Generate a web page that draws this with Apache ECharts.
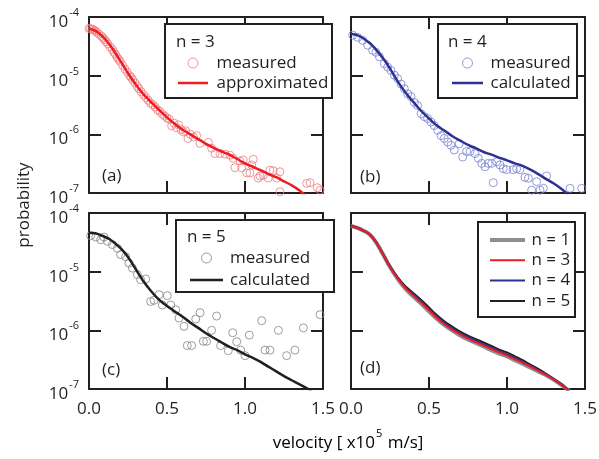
<!DOCTYPE html>
<html><head><meta charset="utf-8">
<script src="https://cdn.jsdelivr.net/npm/echarts@6/dist/echarts.min.js"></script>
<style>html,body{margin:0;padding:0;background:#fff}#c{width:599px;height:459px}</style>
</head><body><div id="c"></div>
<script>
// ---------- DATA ----------
const xTickLabels = ['0.0', '0.5', '1.0', '1.5'];
const panelTags = ['(a)', '(b)', '(c)', '(d)'];
const legendHeads = ['n = 3', 'n = 4', 'n = 5'];

// (a) n = 3
const aMeasured = [[0.0,6.4e-5],[0.01,6.3e-5],[0.02,6.2e-5],[0.03,6.0e-5],[0.04,5.8e-5],[0.05,5.5e-5],[0.065,5.1e-5],[0.08,4.7e-5],[0.09,4.4e-5],[0.1,4.1e-5],[0.11,3.8e-5],[0.12,3.5e-5],[0.135,3.1e-5],[0.15,2.8e-5],[0.16,2.5e-5],[0.17,2.3e-5],[0.18,2.05e-5],[0.19,1.9e-5],[0.2,1.75e-5],[0.215,1.5e-5],[0.23,1.3e-5],[0.245,1.15e-5],[0.26,1.0e-5],[0.27,9.4e-6],[0.28,8.5e-6],[0.295,7.5e-6],[0.31,6.6e-6],[0.32,6.0e-6],[0.335,5.3e-6],[0.35,4.7e-6],[0.365,4.2e-6],[0.38,3.8e-6],[0.395,3.4e-6],[0.41,3.2e-6],[0.425,2.9e-6],[0.44,2.6e-6],[0.455,2.45e-6],[0.47,2.2e-6],[0.485,2.05e-6],[0.5,1.9e-6],[0.515,1.8e-6],[0.53,1.4e-6],[0.545,1.55e-6],[0.56,1.3e-6],[0.575,1.45e-6],[0.59,1.2e-6],[0.605,1.1e-6],[0.62,1.15e-6],[0.635,8.5e-7],[0.65,1.0e-6],[0.67,9.0e-7],[0.69,9.5e-7],[0.712,7.0e-7],[0.765,7.3e-7],[0.786,5.8e-7],[0.808,4.7e-7],[0.84,4.7e-7],[0.872,4.6e-7],[0.904,4.4e-7],[0.925,3.9e-7],[0.936,2.7e-7],[0.968,3.5e-7],[0.979,2.7e-7],[0.989,3.65e-7],[1.011,2.2e-7],[1.032,2.2e-7],[1.043,3.0e-7],[1.053,3.75e-7],[1.085,1.8e-7],[1.096,1.95e-7],[1.117,2.0e-7],[1.149,1.8e-7],[1.16,2.45e-7],[1.181,2.4e-7],[1.203,1.8e-7],[1.224,2.3e-7],[1.224,1.05e-7],[1.395,1.46e-7],[1.417,1.5e-7],[1.463,1.23e-7],[1.481,1.12e-7]];
const aCurveX = [0,0.03,0.06,0.1,0.15,0.2,0.25,0.3,0.35,0.4,0.45,0.5,0.55,0.6,0.65,0.7,0.75,0.8,0.85,0.9,0.95,1.0,1.05,1.1,1.15,1.2,1.25,1.3,1.35,1.39];
const aCurveY = [6.3e-5,6.0e-5,5.4e-5,4.3e-5,2.9e-5,1.8e-5,1.1e-5,7.1e-6,4.8e-6,3.5e-6,2.6e-6,1.95e-6,1.5e-6,1.2e-6,1.0e-6,8.3e-7,6.9e-7,5.9e-7,5.1e-7,4.5e-7,3.8e-7,3.2e-7,2.8e-7,2.45e-7,2.1e-7,1.86e-7,1.58e-7,1.35e-7,1.1e-7,8.9e-8];

// (b) n = 4
const bMeasured = [[0.011,4.9e-5],[0.043,4.5e-5],[0.075,4.0e-5],[0.107,3.3e-5],[0.139,2.7e-5],[0.16,2.5e-5],[0.182,2.1e-5],[0.214,1.6e-5],[0.235,1.4e-5],[0.256,1.23e-5],[0.278,1.02e-5],[0.299,8.9e-6],[0.321,7.2e-6],[0.342,6.0e-6],[0.363,4.9e-6],[0.385,4.4e-6],[0.406,3.5e-6],[0.427,3.1e-6],[0.449,2.24e-6],[0.47,2.0e-6],[0.491,1.86e-6],[0.513,1.62e-6],[0.534,1.41e-6],[0.556,1.17e-6],[0.577,9.5e-7],[0.598,8.5e-7],[0.62,7.4e-7],[0.641,6.5e-7],[0.662,5.4e-7],[0.694,6.9e-7],[0.716,4.1e-7],[0.741,5.1e-7],[0.763,5.1e-7],[0.795,4.7e-7],[0.816,3.9e-7],[0.838,3.2e-7],[0.859,2.8e-7],[0.88,3.2e-7],[0.902,3.2e-7],[0.912,1.5e-7],[0.934,3.4e-7],[0.955,3.0e-7],[0.976,2.6e-7],[0.998,2.5e-7],[1.04,2.5e-7],[1.062,2.6e-7],[1.083,2.5e-7],[1.115,1.85e-7],[1.137,1.78e-7],[1.158,1.12e-7],[1.19,1.56e-7],[1.212,1.12e-7],[1.233,1.2e-7],[1.254,1.95e-7],[1.404,1.2e-7],[1.479,1.2e-7]];
const bCurveX = [0,0.04,0.08,0.13,0.17,0.21,0.25,0.3,0.35,0.4,0.45,0.5,0.55,0.6,0.65,0.7,0.75,0.8,0.85,0.9,0.95,1.0,1.05,1.1,1.15,1.2,1.25,1.3,1.35,1.39];
const bCurveY = [5.2e-5,4.9e-5,4.3e-5,3.4e-5,2.6e-5,1.9e-5,1.32e-5,7.9e-6,5.1e-6,3.55e-6,2.5e-6,1.86e-6,1.41e-6,1.15e-6,9.3e-7,7.8e-7,6.6e-7,5.8e-7,5.0e-7,4.5e-7,4.0e-7,3.6e-7,3.2e-7,2.9e-7,2.5e-7,2.1e-7,1.74e-7,1.45e-7,1.17e-7,9.5e-8];

// (c) n = 5
const cMeasured = [[0.011,4.1e-5],[0.043,3.9e-5],[0.075,3.5e-5],[0.096,3.9e-5],[0.118,3.3e-5],[0.15,2.9e-5],[0.182,2.5e-5],[0.203,1.95e-5],[0.235,1.8e-5],[0.256,1.4e-5],[0.278,1.15e-5],[0.31,8.9e-6],[0.331,7.3e-6],[0.363,7.5e-6],[0.395,3.1e-6],[0.417,3.25e-6],[0.449,4.05e-6],[0.47,2.7e-6],[0.502,3.9e-6],[0.524,2.7e-6],[0.556,2.25e-6],[0.577,1.62e-6],[0.609,1.17e-6],[0.63,5.5e-7],[0.658,5.5e-7],[0.684,1.56e-6],[0.712,2.0e-6],[0.733,6.5e-7],[0.754,6.5e-7],[0.786,1.0e-6],[0.818,1.75e-6],[0.844,5.5e-7],[0.893,4.5e-7],[0.921,9.1e-7],[0.947,6.4e-7],[0.972,4.6e-7],[1.0,3.7e-7],[1.028,8.3e-7],[1.107,1.46e-6],[1.128,4.6e-7],[1.16,4.6e-7],[1.214,1.0e-6],[1.267,3.7e-7],[1.32,4.6e-7],[1.374,1.1e-6],[1.481,1.85e-6]];
const cCurveX = [0,0.04,0.085,0.13,0.17,0.21,0.25,0.3,0.35,0.4,0.45,0.5,0.55,0.6,0.65,0.7,0.75,0.8,0.85,0.9,0.95,1.0,1.05,1.1,1.15,1.2,1.25,1.3,1.35,1.4,1.43];
const cCurveY = [4.6e-5,4.5e-5,4.1e-5,3.6e-5,3.0e-5,2.4e-5,1.78e-5,1.1e-5,6.8e-6,4.6e-6,3.3e-6,2.6e-6,2.1e-6,1.7e-6,1.35e-6,1.1e-6,8.9e-7,7.4e-7,6.2e-7,5.2e-7,4.6e-7,3.9e-7,3.4e-7,2.9e-7,2.4e-7,2.0e-7,1.66e-7,1.41e-7,1.2e-7,1.02e-7,8.9e-8];

// (d) comparison
const dX = [0,0.04,0.08,0.12,0.16,0.2,0.25,0.3,0.35,0.4,0.45,0.5,0.55,0.6,0.65,0.7,0.75,0.8,0.85,0.9,0.95,1.0,1.05,1.1,1.15,1.2,1.25,1.3,1.35,1.38,1.40];
const dN1 = [6.0e-5,5.6e-5,5.0e-5,4.3e-5,3.2e-5,2.1e-5,1.2e-5,7.5e-6,5.1e-6,3.75e-6,2.85e-6,2.1e-6,1.57e-6,1.22e-6,9.9e-7,8.2e-7,7.0e-7,6.1e-7,5.3e-7,4.6e-7,4.0e-7,3.6e-7,3.1e-7,2.7e-7,2.3e-7,2.0e-7,1.72e-7,1.44e-7,1.17e-7,1.02e-7,9.3e-8];
const dN3 = [6.0e-5,5.6e-5,5.0e-5,4.3e-5,3.2e-5,2.1e-5,1.2e-5,7.6e-6,5.2e-6,3.9e-6,2.95e-6,2.2e-6,1.62e-6,1.26e-6,1.02e-6,8.5e-7,7.2e-7,6.3e-7,5.5e-7,4.8e-7,4.2e-7,3.7e-7,3.2e-7,2.8e-7,2.4e-7,2.04e-7,1.74e-7,1.45e-7,1.17e-7,1.02e-7,9.3e-8];
const dN4 = [6.0e-5,5.6e-5,5.0e-5,4.3e-5,3.2e-5,2.1e-5,1.2e-5,7.8e-6,5.4e-6,4.1e-6,3.1e-6,2.3e-6,1.72e-6,1.33e-6,1.08e-6,9.0e-7,7.7e-7,6.7e-7,5.8e-7,5.1e-7,4.4e-7,3.9e-7,3.4e-7,2.95e-7,2.5e-7,2.1e-7,1.78e-7,1.46e-7,1.19e-7,1.02e-7,9.3e-8];
const dN5 = [6.0e-5,5.6e-5,5.0e-5,4.3e-5,3.2e-5,2.1e-5,1.23e-5,7.9e-6,5.6e-6,4.3e-6,3.3e-6,2.45e-6,1.82e-6,1.41e-6,1.15e-6,9.5e-7,8.1e-7,7.1e-7,6.2e-7,5.4e-7,4.7e-7,4.2e-7,3.6e-7,3.1e-7,2.6e-7,2.2e-7,1.82e-7,1.48e-7,1.2e-7,1.02e-7,9.3e-8];

// ---------- CHART ----------
const FONT = '"Open Sans", "Noto Sans", sans-serif';
const INK = '#231f20';
const C_RED = '#ed1c24', C_RED_PT = '#ee7b80';
const C_BLUE = '#2e3192', C_BLUE_PT = '#7881d2';
const C_BLACK = '#231f20', C_GRAY_PT = '#858585', C_GRAY = '#8c8e90';

const zip = (xs, ys) => xs.map((x, i) => [x, ys[i]]);
const gridPos = [[89, 17], [351, 17], [89, 213], [351, 213]];
const grid = gridPos.map(p => ({left: p[0], top: p[1], width: 234, height: 176, outerBoundsMode: 'none'}));

const lineAx = {show: true, onZero: false, lineStyle: {color: INK, width: 2}};
const tickAx = {show: true, inside: true, length: 12, lineStyle: {color: INK, width: 2}};
const xAxis = [], yAxis = [];
for (let i = 0; i < 4; i++) {
  xAxis.push({gridIndex: i, type: 'value', min: 0, max: 1.5, interval: 0.5, position: 'bottom',
    axisLine: lineAx, axisTick: tickAx, splitLine: {show: false},
    axisLabel: {show: i >= 2, margin: 12, fontSize: 17, fontFamily: FONT, color: INK,
      showMinLabel: true, showMaxLabel: true,
      formatter: v => xTickLabels[Math.round(v / 0.5)]}});
}
for (let i = 0; i < 4; i++) {
  xAxis.push({gridIndex: i, type: 'value', min: 0, max: 1.5, interval: 0.5, position: 'top',
    axisLine: lineAx, axisTick: tickAx, splitLine: {show: false}, axisLabel: {show: false}});
}
const richY = {
  b: {fontSize: 17, fontFamily: FONT, color: INK, lineHeight: 17, verticalAlign: 'bottom'},
  s: {fontSize: 11, fontFamily: FONT, color: INK, lineHeight: 11, padding: [0, 0, 12, 1], verticalAlign: 'bottom'}
};
for (let i = 0; i < 4; i++) {
  yAxis.push({gridIndex: i, type: 'log', logBase: 10, min: 1e-7, max: 1e-4, position: 'left',
    axisLine: lineAx, axisTick: tickAx, splitLine: {show: false}, minorTick: {show: false},
    axisLabel: {show: i % 2 === 0, margin: 10, padding: [10, 0, 0, 0], rich: richY,
      formatter: v => '{b|10}{s|' + Math.round(Math.log10(v)) + '}'}});
}
for (let i = 0; i < 4; i++) {
  yAxis.push({gridIndex: i, type: 'log', logBase: 10, min: 1e-7, max: 1e-4, position: 'right',
    axisLine: lineAx, axisTick: tickAx, splitLine: {show: false}, axisLabel: {show: false}});
}

const scat = (name, gi, data, col) => ({type: 'scatter', name, xAxisIndex: gi, yAxisIndex: gi, data,
  symbol: 'circle', symbolSize: 8, z: 2,
  itemStyle: {color: 'rgba(0,0,0,0)', borderColor: col, borderWidth: 1}});
const line = (name, gi, data, col, w, z) => ({type: 'line', name, xAxisIndex: gi, yAxisIndex: gi, data,
  symbol: 'none', smooth: 0.3, z, clip: true, lineStyle: {color: col, width: w}, itemStyle: {color: col}});

const series = [
  scat('a|measured', 0, aMeasured, C_RED_PT),
  line('a|approximated', 0, zip(aCurveX, aCurveY), C_RED, 2.5, 3),
  scat('b|measured', 1, bMeasured, C_BLUE_PT),
  line('b|calculated', 1, zip(bCurveX, bCurveY), C_BLUE, 2.5, 3),
  scat('c|measured', 2, cMeasured, C_GRAY_PT),
  line('c|calculated', 2, zip(cCurveX, cCurveY), C_BLACK, 2.5, 3),
  line('d|n = 1', 3, zip(dX, dN1), C_GRAY, 4, 2),
  line('d|n = 5', 3, zip(dX, dN5), C_BLACK, 2, 3),
  line('d|n = 4', 3, zip(dX, dN4), C_BLUE, 2, 4),
  line('d|n = 3', 3, zip(dX, dN3), C_RED, 2, 5)
];

const legTxt = pad => ({fontSize: 17, fontFamily: FONT, color: INK, lineHeight: 20, padding: [0, 0, 0, pad]});
const circIcon = (name, col) => ({name, icon: 'circle', itemStyle: {color: 'rgba(0,0,0,0)', borderColor: col, borderWidth: 1}});
const barIcon = (name, w, h) => ({name, icon: 'path://M0,0h' + w + 'v' + h + 'h-' + w + 'z'});
const legBase = {orient: 'vertical', selectedMode: false, itemHeight: 10, z: 12,
  formatter: n => n.split('|')[1]};
const legend = [
  Object.assign({}, legBase, {left: 173, top: 48, itemWidth: 30, itemGap: 0, textStyle: legTxt(3.5),
    data: [circIcon('a|measured', C_RED_PT), barIcon('a|approximated', 30, 2.5)]}),
  Object.assign({}, legBase, {left: 447, top: 48, itemWidth: 31, itemGap: 0, textStyle: legTxt(2.5),
    data: [circIcon('b|measured', C_BLUE_PT), barIcon('b|calculated', 31, 2.5)]}),
  Object.assign({}, legBase, {left: 185, top: 243, itemWidth: 33, itemGap: 2, textStyle: legTxt(2),
    data: [circIcon('c|measured', C_GRAY_PT), barIcon('c|calculated', 33, 2.5)]}),
  Object.assign({}, legBase, {left: 485, top: 225, itemWidth: 35, itemGap: 0.3, textStyle: legTxt(1.5),
    data: [barIcon('d|n = 1', 35, 4), barIcon('d|n = 3', 35, 2), barIcon('d|n = 4', 35, 2), barIcon('d|n = 5', 35, 2)]})
];

const box = (x, y, w, h) => ({type: 'rect', z: 8, shape: {x, y, width: w, height: h},
  style: {fill: '#fff', stroke: INK, lineWidth: 2}});
const txt = (x, y, t) => ({type: 'text', z: 13, x, y,
  style: {text: t, font: '17px ' + FONT, fill: INK, align: 'left', verticalAlign: 'middle'}});

const graphic = [
  box(165, 24, 167, 74), box(438, 24, 139, 74), box(176, 220, 158, 72), box(478, 222, 97, 95),
  txt(176, 42, legendHeads[0]), txt(448, 42, legendHeads[1]), txt(187, 237, legendHeads[2]),
  txt(102, 176, panelTags[0]), txt(360, 177, panelTags[1]), txt(102, 370, panelTags[2]), txt(360, 368, panelTags[3]),
  {type: 'text', z: 13, x: 24, y: 205, rotation: Math.PI / 2,
    style: {text: 'probability', font: '17px ' + FONT, fill: INK, align: 'center', verticalAlign: 'middle'}},
  {type: 'text', z: 13, x: 348, y: 443,
    style: {text: '{n|velocity [ x10}{s|5}{n| m/s]}', align: 'center', verticalAlign: 'middle',
      rich: {
        n: {fontSize: 17, fontFamily: FONT, color: INK, lineHeight: 17, verticalAlign: 'bottom'},
        s: {fontSize: 11, fontFamily: FONT, color: INK, lineHeight: 11, padding: [0, 1, 12, 1], verticalAlign: 'bottom'}
      }}}
];

const chart = echarts.init(document.getElementById('c'), null, {renderer: 'canvas'});
chart.setOption({animation: false, backgroundColor: '#fff', grid, xAxis, yAxis, series, legend, graphic});
</script>
</body></html>
